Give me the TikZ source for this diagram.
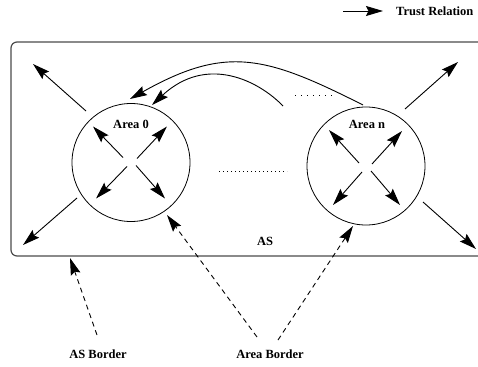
\documentclass[tikz,border=0pt]{standalone}
\usepackage{fontspec}
\setmainfont{Liberation Serif}
\usetikzlibrary{arrows.meta}
\begin{document}
\begin{tikzpicture}[x=1pt,y=-1pt,
  lbl/.style={font=\fontsize{12.5}{14}\selectfont\bfseries, inner sep=0pt},
  trust/.style={line width=0.9pt, -{Stealth[length=17pt,width=10pt,inset=2.5pt]}},
  bordarrow/.style={trust, dash pattern=on 5pt off 4pt},
  area/.style={circle, draw, line width=0.8pt, minimum size=118pt, inner sep=0pt}]
\useasboundingbox (0,0) rectangle (478,366);
\clip (0,0) rectangle (478,366);
% AS box
\draw[line width=1.2pt, draw=black!70, rounded corners=6pt] (11,42) rectangle (500,256);
% legend
\coordinate (lg1) at (343,11);
\coordinate (lg2) at (383,11);
\draw[trust] (lg1) -- (lg2);
\node[lbl, anchor=west] (lgt) at (396,11) {Trust Relation};
% areas
\node[area] (a0) at (131,162.5) {};
\node[area] (an) at (366,166) {};
\node[lbl] (a0t) at (131,124) {Area 0};
\node[lbl] (ant) at (367,124) {Area n};
\node[lbl] (as) at (265,241) {AS};
% inner arrows Area 0
\draw[trust] ([shift={(-8,-5)}]a0.center) -- ([shift={(-38,-36)}]a0.center);
\draw[trust] ([shift={(6,-4)}]a0.center) -- ([shift={(36,-36)}]a0.center);
\draw[trust] ([shift={(-4,4)}]a0.center) -- ([shift={(-35,36)}]a0.center);
\draw[trust] ([shift={(5,3)}]a0.center) -- ([shift={(34,36)}]a0.center);
% inner arrows Area n
\draw[trust] ([shift={(-7,-3)}]an.center) -- ([shift={(-37,-36)}]an.center);
\draw[trust] ([shift={(6,-2)}]an.center) -- ([shift={(36,-35)}]an.center);
\draw[trust] ([shift={(-4,6)}]an.center) -- ([shift={(-33,39)}]an.center);
\draw[trust] ([shift={(5,5)}]an.center) -- ([shift={(34,39)}]an.center);
% outer arrows
\coordinate (o1s) at (86,111);  \coordinate (o1e) at (33,64);
\coordinate (o2s) at (77,198);  \coordinate (o2e) at (23,245);
\coordinate (o3s) at (405,109); \coordinate (o3e) at (458,62);
\coordinate (o4s) at (423,202); \coordinate (o4e) at (476,249);
\draw[trust] (o1s) -- (o1e);
\draw[trust] (o2s) -- (o2e);
\draw[trust] (o3s) -- (o3e);
\draw[trust] (o4s) -- (o4e);
% curved arrows
\coordinate (c1s) at (363,105); \coordinate (c1e) at (130,99);
\coordinate (c2s) at (283,106); \coordinate (c2e) at (152,105);
\draw[trust] (c1s) .. controls (265,55.5) and (226,45) .. (c1e);
\draw[trust] (c2s) .. controls (259,81) and (207,54) .. (c2e);
% dotted
\coordinate (d1a) at (295,95); \coordinate (d1b) at (333,95);
\coordinate (d2a) at (219,171); \coordinate (d2b) at (287,171);
\draw[line width=0.7pt, dash pattern=on 0.8pt off 5.2pt] (d1a) -- (d1b);
\draw[line width=0.7pt, dash pattern=on 0.8pt off 3.2pt] (d2a) -- (d2b);
% bottom labels and dashed arrows
\node[lbl] (asb) at (98,354) {AS Border};
\node[lbl] (arb) at (270,354) {Area Border};
\coordinate (b1s) at (97,335);  \coordinate (b1e) at (70,258);
\coordinate (b2s) at (257,337); \coordinate (b2e) at (167,215);
\coordinate (b3s) at (278,340); \coordinate (b3e) at (353,226);
\draw[bordarrow] (b1s) -- (b1e);
\draw[bordarrow] (b2s) -- (b2e);
\draw[bordarrow] (b3s) -- (b3e);
\end{tikzpicture}
\end{document}
